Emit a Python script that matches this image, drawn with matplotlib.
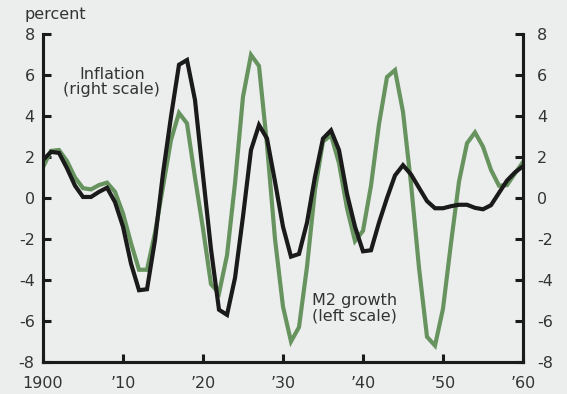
import matplotlib.pyplot as plt
import numpy as np

years = np.arange(1900, 1961)

inflation = [
    1.85, 2.25, 2.2, 1.45, 0.6, 0.05, 0.05, 0.3, 0.5, -0.2,
    -1.4, -3.2, -4.5, -4.45, -2.05, 1.2, 3.97, 6.5, 6.73, 4.78,
    1.1, -2.5, -5.45, -5.7, -3.9, -0.9, 2.34, 3.56, 2.9, 0.8,
    -1.4, -2.86, -2.73, -1.2, 1.04, 2.9, 3.3, 2.34, 0.2, -1.4,
    -2.6, -2.55, -1.2, 0.0, 1.1, 1.6, 1.15, 0.5, -0.15, -0.5,
    -0.5, -0.4, -0.33, -0.33, -0.48, -0.55, -0.35, 0.25, 0.85, 1.25,
    1.55,
]

m2_growth = [
    1.5, 2.3, 2.34, 1.8, 1.0, 0.48, 0.42, 0.63, 0.75, 0.3,
    -0.75, -2.2, -3.5, -3.5, -1.7, 0.55, 2.83, 4.15, 3.64, 1.0,
    -1.5, -4.2, -4.65, -2.8, 0.72, 4.94, 6.98, 6.44, 2.6, -2.0,
    -5.3, -7.0, -6.3, -3.35, 0.4, 2.75, 3.07, 1.7, -0.5, -2.1,
    -1.6, 0.6, 3.6, 5.9, 6.24, 4.2, 0.7, -3.4, -6.77, -7.2,
    -5.4, -2.2, 0.8, 2.67, 3.2, 2.5, 1.37, 0.6, 0.63, 1.2,
    1.75,
]

x_ticks = [1900, 1910, 1920, 1930, 1940, 1950, 1960]
x_labels = ["1900", "\u201910", "\u201920", "\u201930", "\u201940", "\u201950", "\u201960"]
y_ticks = [-8, -6, -4, -2, 0, 2, 4, 6, 8]

BG = "#eceeed"
TEXT = "#333333"
GREEN = "#67935f"
BLACK = "#1b1a1a"

plt.rcParams.update({
    "font.family": ["DejaVu Sans"],
    "font.size": 11.5,
    "text.color": TEXT,
})

fig = plt.figure(figsize=(5.67, 3.94), dpi=100, facecolor=BG)
ax = fig.add_axes([43 / 567, 1 - 362 / 394, 480 / 567, 328 / 394])
ax.set_facecolor(BG)
ax2 = ax.twinx()

ax.plot(years, m2_growth, color=GREEN, linewidth=3.0, solid_joinstyle="miter", zorder=2)
ax2.plot(years, inflation, color=BLACK, linewidth=3.0, solid_joinstyle="miter", zorder=3)

for a in (ax, ax2):
    a.set_xlim(1900, 1960)
    a.set_ylim(-8, 8)
    a.set_yticks(y_ticks)
    a.set_yticklabels([str(v) for v in y_ticks])
    a.spines["top"].set_visible(False)
    for s in ("left", "right", "bottom"):
        a.spines[s].set_linewidth(2.2)
        a.spines[s].set_color(BLACK)
    a.tick_params(direction="in", length=6, width=2.2, color=BLACK,
                  labelcolor=TEXT, labelsize=11.5)

ax.tick_params(axis="y", pad=6)
ax2.tick_params(axis="y", pad=10)
ax.set_xticks(x_ticks)
ax.set_xticklabels(x_labels)
ax.tick_params(axis="x", pad=10)

ax.text(1908.6, 5.66, "Inflation\n(right scale)", ha="center", va="center",
        fontsize=11.5, linespacing=1.05, color=TEXT, zorder=5)
ax.text(1933.6, -5.37, "M2 growth\n(left scale)", ha="left", va="center",
        fontsize=11.5, linespacing=1.05, color=TEXT, zorder=5)

fig.text(25 / 567, 1 - 19 / 394, "percent", ha="left", va="baseline",
         fontsize=11.5, color=TEXT)

fig.savefig("out.png", dpi=100, facecolor=BG)
